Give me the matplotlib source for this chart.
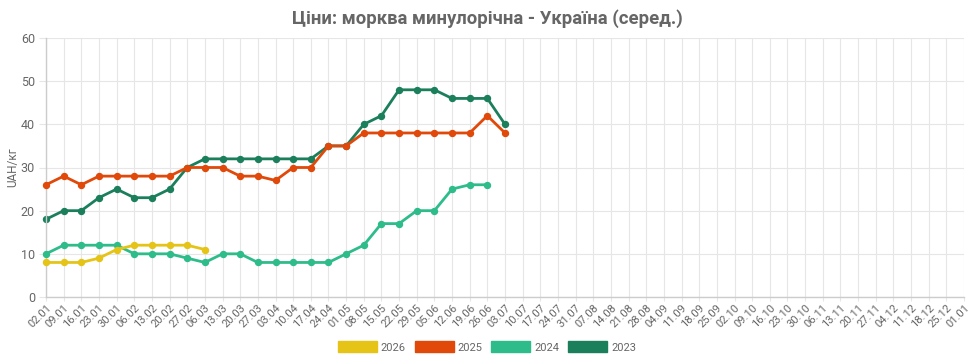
import matplotlib
matplotlib.use("Agg")
import matplotlib.pyplot as plt
from matplotlib.patches import Patch

dates = ["02.01","09.01","16.01","23.01","30.01","06.02","13.02","20.02","27.02","06.03",
         "13.03","20.03","27.03","03.04","10.04","17.04","24.04","01.05","08.05","15.05",
         "22.05","29.05","05.06","12.06","19.06","26.06","03.07","10.07","17.07","24.07",
         "31.07","07.08","14.08","21.08","28.08","04.09","11.09","18.09","25.09","02.10",
         "09.10","16.10","23.10","30.10","06.11","13.11","20.11","27.11","04.12","11.12",
         "18.12","25.12","01.01"]

s2026 = [8, 8, 8, 9, 11, 12, 12, 12, 12, 11]
s2025 = [26, 28, 26, 28, 28, 28, 28, 28, 30, 30, 30, 28, 28, 27, 30, 30, 35, 35, 38, 38,
         38, 38, 38, 38, 38, 42, 38]
s2024 = [10, 12, 12, 12, 12, 10, 10, 10, 9, 8, 10, 10, 8, 8, 8, 8, 8, 10, 12, 17,
         17, 20, 20, 25, 26, 26]
s2023 = [18, 20, 20, 23, 25, 23, 23, 25, 30, 32, 32, 32, 32, 32, 32, 32, 35, 35, 40, 42,
         48, 48, 48, 46, 46, 46, 40]

series = [("2026", s2026, "#E5C417"), ("2025", s2025, "#E0490A"),
          ("2024", s2024, "#2DBC8A"), ("2023", s2023, "#1B7F5C")]

plt.rcParams['font.family'] = ['Roboto', 'DejaVu Sans']

fig = plt.figure(figsize=(9.74, 3.61), dpi=100)
ax = fig.add_axes([46/974, 1-297/361, (964-46)/974, (297-38)/361])

zorders = {"2026": 5, "2025": 4, "2024": 3, "2023": 2}
for name, vals, col in series:
    ax.plot(range(len(vals)), vals, color=col, lw=2.0, marker='o', ms=4.3,
            zorder=zorders[name], solid_capstyle='round', clip_on=False)

ax.set_xlim(0, len(dates)-1)
ax.set_ylim(0, 60)
ax.set_xticks(range(len(dates)))
ax.set_xticklabels(dates, rotation=45, ha='right', rotation_mode='anchor',
                   fontsize=8, color='#666666')
ax.set_yticks([0, 10, 20, 30, 40, 50, 60])
ax.tick_params(axis='y', labelsize=9, colors='#666666', length=5, color='#e6e6e6', pad=3)
ax.tick_params(axis='x', length=3, color='#e6e6e6', pad=1)
ax.grid(True, color='#e6e6e6', lw=0.8)
ax.set_axisbelow(True)
for sp in ['top', 'right']:
    ax.spines[sp].set_visible(False)
for sp in ['left', 'bottom']:
    ax.spines[sp].set_color('#cccccc')
    ax.spines[sp].set_linewidth(1.0)
ax.set_ylabel("UAH/кг", fontsize=8.5, color='#666666', labelpad=1)

fig.text(0.5, 0.948, "Ціни: морква минулорічна - Україна (серед.)", ha='center', va='center',
         fontsize=13.3, fontweight='bold', color='#666666')

handles = [Patch(facecolor=c, edgecolor=c, label=n) for n, _, c in series]
fig.legend(handles=handles, loc='center', bbox_to_anchor=(0.5, 0.039), ncol=4,
           frameon=False, handlelength=3.5, handleheight=1.17, fontsize=8,
           labelcolor='#666666', columnspacing=0.8, handletextpad=0.36)

fig.savefig("out.png", dpi=100)
